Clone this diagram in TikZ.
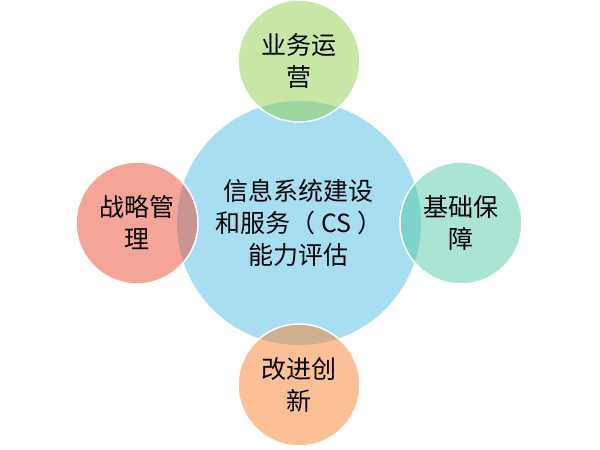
\documentclass[tikz,border=0pt]{standalone}
\usepackage{fontspec}
\setmainfont{Noto Sans CJK SC}
\usepackage{xcolor}
\usepackage{tikz}
\usetikzlibrary{positioning}

\definecolor{coreblue}{RGB}{168,222,242}
\definecolor{opsgreen}{RGB}{145,205,75}
\definecolor{stratred}{RGB}{235,75,49}
\definecolor{infrateal}{RGB}{85,201,169}
\definecolor{improveorange}{RGB}{249,129,45}

\begin{document}
\begin{tikzpicture}[
    every node/.style={font=\fontsize{25}{32}\selectfont, align=center, outer sep=0pt},
    core/.style={circle, fill=coreblue, minimum size=244pt, inner sep=0pt},
    petal/.style={circle, draw=white, line width=1.5pt, fill opacity=0.5,
        text opacity=1, minimum size=122pt, inner sep=0pt},
    node distance=-21pt
]
\useasboundingbox (-299pt,-227pt) rectangle (301pt,223pt);

\node[core] (core) at (0,0) {信息系统建设\\和服务（ CS ）\\能力评估};

\node[petal, fill=opsgreen, above=of core] (ops) {业务运\\营};
\node[petal, fill=stratred, left=of core] (strategy) {战略管\\理};
\node[petal, fill=infrateal, right=of core] (infra) {基础保\\障};
\node[petal, fill=improveorange, below=of core] (improve) {改进创\\新};
\end{tikzpicture}
\end{document}
